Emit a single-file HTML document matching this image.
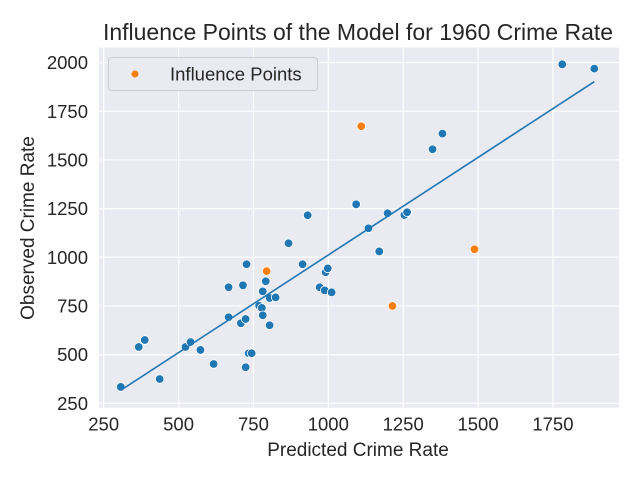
<!DOCTYPE html>
<html><head><meta charset="utf-8"><style>
body{margin:0;background:#fff;}
svg{font-family:"Liberation Sans","DejaVu Sans",sans-serif;}
</style></head><body>
<svg id="chart" width="640" height="480">
<rect x="99" y="47.5" width="520" height="360.2" fill="#eaeaf2"/>
<g id="grid"></g>
<g id="marks"></g>
<text x="358" y="40" font-size="23" text-anchor="middle" fill="#262626">Influence Points of the Model for 1960 Crime Rate</text>
<text x="358" y="456" font-size="19" text-anchor="middle" fill="#262626">Predicted Crime Rate</text>
<text transform="translate(34,228) rotate(-90)" font-size="19" text-anchor="middle" fill="#262626">Observed Crime Rate</text>
<g>
<rect x="108.5" y="57.5" width="209" height="33" rx="3" fill="#eaeaf2" stroke="#cccccc"/>
<circle cx="135" cy="74" r="3.5" fill="#ff7f0e"/>
<text x="170" y="80.5" font-size="18.5" fill="#262626">Influence Points</text>
</g>
</svg>
<script>
const xTicks=[250,500,750,1000,1250,1500,1750];
const yTicks=[250,500,750,1000,1250,1500,1750,2000];
const blueX=[307,367,387,437,523,540,573,617,667,667,715,708,724,727,724,734,744,769,778,781,781,791,804,824,804,867,914,931,971,988,991,998,1011,1093,1134,1170,1198,1254,1263,1348,1381,1781,1888];
const blueY=[334,539,575,375,539,565,524,452,692,846,856,661,683,964,435,507,507,751,740,702,825,877,791,794,651,1072,964,1216,846,830,923,943,820,1272,1149,1030,1226,1217,1231,1555,1635,1991,1969];
const orangeX=[1110,1214,1488,794];
const orangeY=[1673,750,1041,929];
const lineX=[308,1888];
const lineY=[318,1902];
const X=v=>103.7+(v-250)*0.2995;
const Y=v=>403.3-(v-250)*0.1947;
const NS="http://www.w3.org/2000/svg";
const svg=document.getElementById('chart');
const grid=document.getElementById('grid');
const marks=document.getElementById('marks');
function mk(t,a,p){const e=document.createElementNS(NS,t);for(const k in a)e.setAttribute(k,a[k]);p.appendChild(e);return e;}
xTicks.forEach(t=>{
 const l=mk('line',{x1:X(t),x2:X(t),y1:47.5,y2:407.7,stroke:'#fff','stroke-width':1.2},grid);
 
 
 const tx=mk('text',{x:X(t),y:430.5,'font-size':18.5,'text-anchor':'middle',fill:'#262626'},svg);
 tx.textContent=t;
 
 
});
yTicks.forEach(t=>{
 const l=mk('line',{x1:99,x2:619,y1:Y(t),y2:Y(t),stroke:'#fff','stroke-width':1.2},grid);
 
 
 const tx=mk('text',{x:88,y:Y(t)+6.5,'font-size':18.5,'text-anchor':'end',fill:'#262626'},svg);
 tx.textContent=t;
 
 
});
blueX.forEach((v,i)=>{
 const c=mk('circle',{cx:X(v),cy:Y(blueY[i]),r:4.3,fill:'#1f77b4',stroke:'#fff','stroke-width':0.8},marks);
 
 
});
const ln=mk('line',{x1:X(lineX[0]),y1:Y(lineY[0]),x2:X(lineX[1]),y2:Y(lineY[1]),stroke:'#1f77b4','stroke-width':1.6},marks);


orangeX.forEach((v,i)=>{
 const c=mk('circle',{cx:X(v),cy:Y(orangeY[i]),r:4.3,fill:'#ff7f0e',stroke:'#fff','stroke-width':0.8},marks);
 
 
});
</script>
</body></html>
